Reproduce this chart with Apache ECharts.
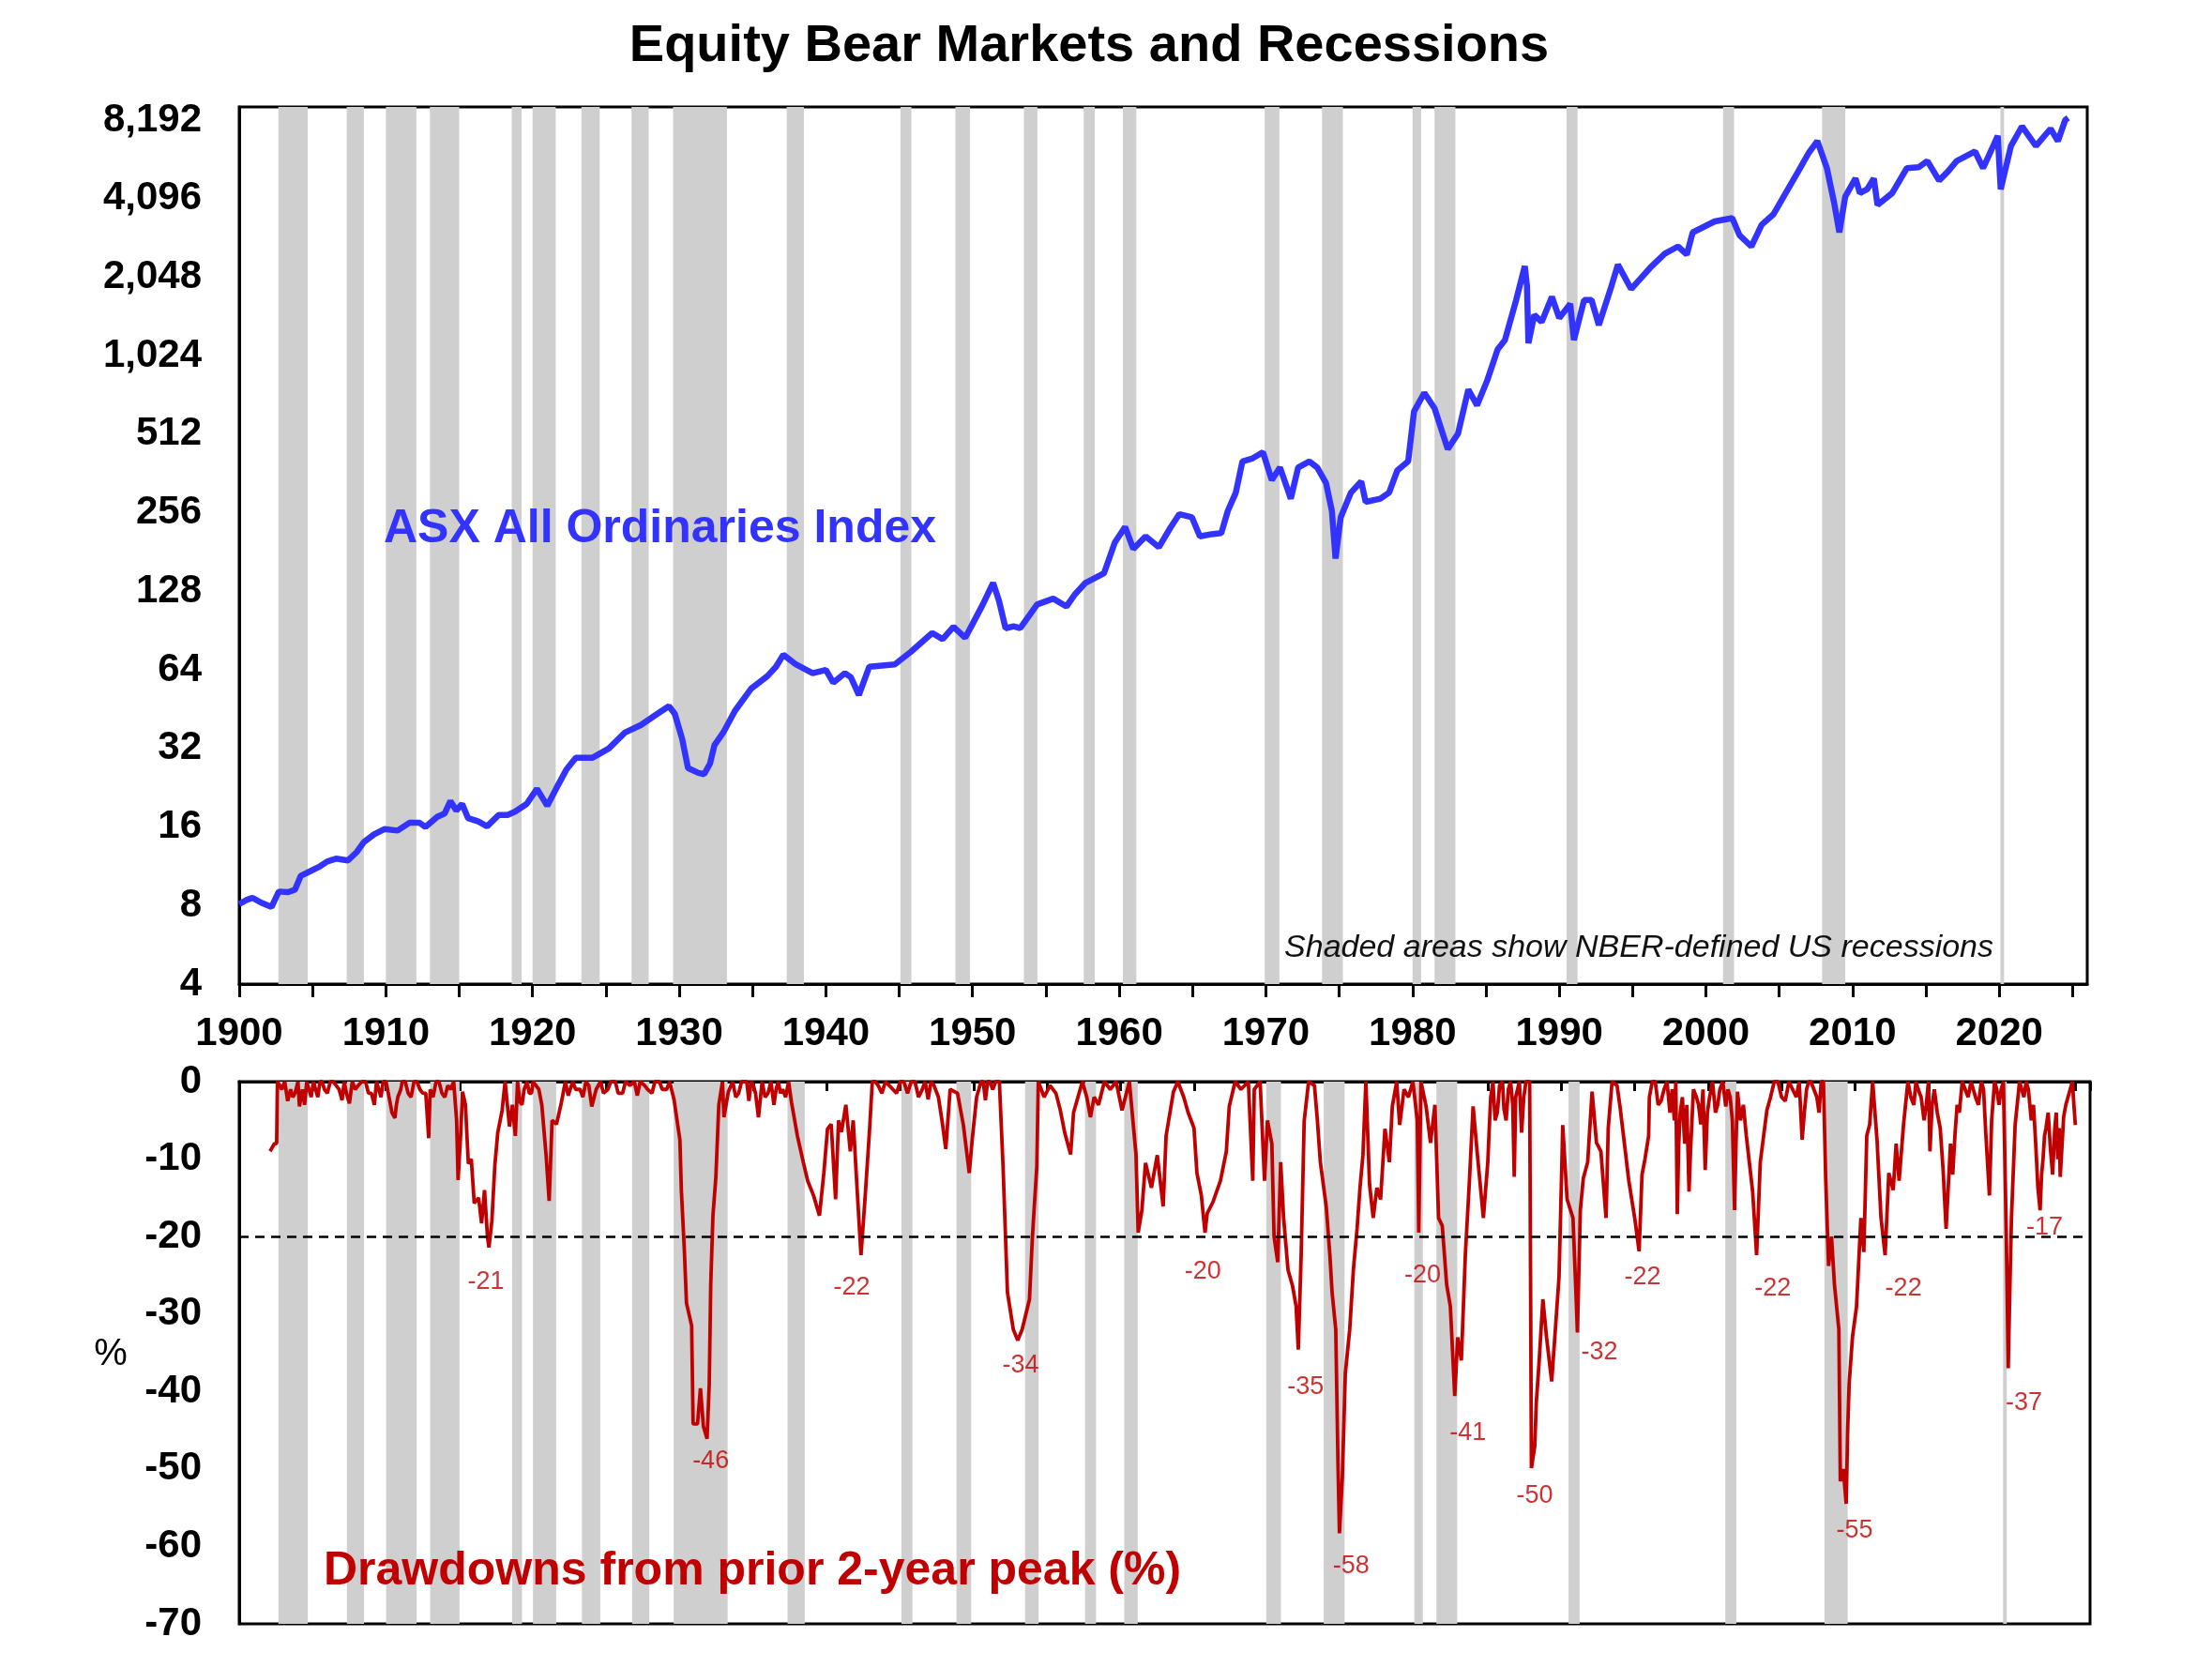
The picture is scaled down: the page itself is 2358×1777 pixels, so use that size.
<!DOCTYPE html>
<html>
<head>
<meta charset="utf-8">
<script src="https://cdn.jsdelivr.net/npm/echarts@6/dist/echarts.min.js"></script>
<style>
html,body{margin:0;padding:0;background:#fff;}
#chart{width:2358px;height:1777px;}
</style>
</head>
<body>
<div id="chart"></div>
<script>
// NBER US recessions (decimal years, peak to trough)
const recStart = [1902.67,1907.33,1910.0,1913.0,1918.58,1920.0,1923.33,1926.75,1929.58,1937.33,1945.08,1948.83,1953.5,1957.58,1960.25,1969.92,1973.83,1980.0,1981.5,1990.5,2001.17,2007.92,2020.08];
const recEnd   = [1904.67,1908.5,1912.08,1915.0,1919.25,1921.58,1924.58,1927.92,1933.25,1938.5,1945.83,1949.83,1954.42,1958.33,1961.17,1970.92,1975.25,1980.58,1982.92,1991.25,2001.92,2009.5,2020.33];

// ASX All Ordinaries index
const idxYears = [1900.0,1900.5,1900.9,1901.5,1902.2,1902.7,1903.3,1903.8,1904.2,1904.8,1905.5,1906.0,1906.6,1907.4,1908.0,1908.5,1909.2,1909.9,1910.8,1911.6,1912.3,1912.7,1913.5,1914.0,1914.4,1914.8,1915.2,1915.6,1916.3,1916.9,1917.7,1918.3,1918.8,1919.6,1920.3,1921.0,1921.6,1922.3,1922.95,1924.1,1925.2,1926.3,1927.4,1928.5,1929.3,1929.7,1930.2,1930.6,1931.3,1931.7,1932.1,1932.4,1933.0,1933.8,1934.9,1936.0,1936.6,1937.1,1937.95,1939.1,1940.0,1940.5,1941.3,1941.7,1942.25,1942.96,1944.7,1945.8,1947.25,1947.96,1948.7,1949.5,1950.0,1950.7,1951.4,1951.8,1952.25,1952.8,1953.25,1954.4,1955.5,1956.4,1957.0,1957.7,1958.96,1959.7,1960.4,1960.96,1961.8,1962.7,1963.5,1964.1,1964.96,1965.5,1966.3,1966.96,1967.4,1967.95,1968.4,1969.1,1969.8,1970.4,1970.96,1971.7,1972.2,1972.96,1973.5,1974.1,1974.5,1974.75,1975.1,1975.8,1976.5,1976.8,1977.8,1978.4,1978.96,1979.7,1980.1,1980.8,1981.5,1982.4,1983.1,1983.8,1984.4,1985.1,1985.8,1986.3,1987.05,1987.65,1987.8,1987.9,1988.3,1988.8,1989.5,1990.0,1990.75,1991.0,1991.7,1992.2,1992.7,1993.5,1994.0,1994.9,1996.2,1997.2,1998.1,1998.7,1999.1,2000.6,2001.8,2002.3,2003.1,2003.8,2004.6,2005.3,2006.3,2007.0,2007.6,2008.25,2008.75,2009.1,2009.5,2010.2,2010.5,2011.0,2011.45,2011.7,2012.7,2013.7,2014.5,2015.1,2015.9,2016.5,2017.1,2018.35,2018.9,2019.9,2020.1,2020.8,2021.55,2022.5,2023.5,2024.0,2024.5,2024.7];
const idxValues = [8.1,8.4,8.57,8.2,7.9,9.05,9.0,9.19,10.4,10.8,11.3,11.8,12.1,11.9,12.8,14.0,15.0,15.7,15.5,16.6,16.6,16.0,17.5,18.0,20.1,18.5,19.6,17.3,16.8,16.1,17.8,17.8,18.3,19.6,22.4,19.3,22.4,26.5,29.5,29.5,32.0,36.8,39.4,43.4,46.5,43.4,34.8,26.9,25.8,25.5,28.0,32.9,36.8,44.6,54.2,60.5,65.8,73.2,67.2,62.2,64,57.2,62.2,60,51.3,65.8,67.2,75.1,88.6,83.9,93.7,85,96,114,138,118,92.4,94,92.4,114,120,112,125,138,150,197,226,186,208,189,225,253,246,208,212,214,260,306,403,414,437,342,382,290,382,403,382,333,260,171,246,306,338,282,290,306,372,403,626,738,644,449,515,760,661,826,1083,1176,1663,2257,1900,1144,1468,1380,1722,1428,1618,1176,1675,1675,1342,1845,2288,1845,2225,2520,2685,2500,3040,3350,3450,2960,2685,3250,3565,4170,5210,6120,6810,5360,3930,3040,4170,4900,4300,4450,4900,3870,4300,5360,5400,5710,4810,5200,5710,6210,5360,7130,4450,6520,7750,6520,7590,6810,8200,8350];

// Drawdowns from prior 2-year peak (%) - main swings
const ddYears = [1902.1,1902.4,1902.55,1902.6,1902.9,1903.1,1903.3,1903.5,1903.8,1904.1,1904.3,1904.6,1904.9,1905.2,1905.5,1905.8,1906.2,1906.6,1907.0,1907.3,1907.5,1907.7,1908.1,1908.6,1909.0,1909.2,1909.5,1909.8,1910.2,1910.4,1910.6,1910.8,1911.1,1911.5,1911.9,1912.3,1912.7,1912.9,1913.0,1913.4,1913.8,1914.2,1914.6,1914.8,1914.9,1915.1,1915.2,1915.4,1915.6,1915.8,1916.0,1916.3,1916.5,1916.7,1916.9,1917.0,1917.2,1917.4,1917.6,1917.9,1918.1,1918.4,1918.6,1918.8,1919.1,1919.4,1919.6,1919.9,1920.2,1920.6,1920.9,1921.1,1921.3,1921.6,1921.9,1922.4,1922.7,1923.2,1923.6,1924.0,1924.3,1924.6,1925.1,1925.6,1926.1,1926.6,1927.1,1927.6,1928.1,1928.6,1929.1,1929.6,1930.0,1930.1,1930.3,1930.45,1930.8,1930.9,1931.2,1931.4,1931.6,1931.85,1932.0,1932.1,1932.25,1932.45,1932.65,1932.9,1933.0,1933.3,1933.6,1934.0,1934.4,1934.7,1935.0,1935.35,1935.6,1936.0,1936.4,1936.7,1937.0,1937.4,1937.6,1938.0,1938.4,1938.7,1939.1,1939.5,1939.8,1940.05,1940.3,1940.6,1940.8,1941.0,1941.3,1941.6,1941.8,1942.06,1942.33,1942.6,1942.9,1943.1,1943.5,1944.0,1944.5,1945.0,1945.5,1946.0,1946.5,1946.9,1947.3,1947.85,1948.1,1948.4,1948.9,1949.3,1949.7,1949.9,1950.2,1950.5,1950.8,1951.1,1951.75,1952.0,1952.3,1952.7,1953.0,1953.3,1953.8,1954.0,1954.3,1954.4,1954.8,1955.2,1955.6,1955.9,1956.2,1956.6,1956.8,1957.1,1957.4,1957.7,1957.95,1958.2,1958.5,1958.9,1959.3,1959.7,1960.1,1960.6,1961.05,1961.2,1961.45,1961.7,1962.1,1962.5,1962.9,1963.1,1963.6,1963.9,1964.3,1964.6,1965.0,1965.2,1965.5,1965.75,1965.9,1966.3,1966.8,1967.2,1967.4,1967.8,1968.2,1968.7,1969.0,1969.1,1969.5,1969.8,1970.0,1970.3,1970.45,1970.7,1970.9,1971.1,1971.4,1971.7,1971.95,1972.1,1972.3,1972.5,1972.8,1973.2,1973.4,1973.6,1974.0,1974.25,1974.4,1974.65,1974.8,1974.9,1975.1,1975.3,1975.6,1975.85,1976.1,1976.3,1976.5,1976.7,1976.95,1977.2,1977.45,1977.7,1978.0,1978.3,1978.5,1978.8,1979.0,1979.3,1979.6,1979.9,1980.2,1980.3,1980.45,1980.8,1981.1,1981.4,1981.65,1981.9,1982.2,1982.45,1982.75,1982.95,1983.2,1983.47,1983.75,1984.0,1984.3,1984.7,1985.0,1985.2,1985.5,1985.8,1986.1,1986.4,1986.8,1987.0,1987.3,1987.6,1987.85,1987.97,1988.2,1988.3,1988.5,1988.75,1989.0,1989.35,1989.6,1989.85,1990.05,1990.1,1990.4,1990.8,1991.0,1991.1,1991.3,1991.5,1991.8,1992.1,1992.4,1992.7,1993.05,1993.2,1993.46,1993.8,1994.0,1994.3,1994.6,1995.0,1995.3,1995.5,1995.7,1995.95,1996.2,1996.6,1997.0,1997.4,1997.7,1997.9,1998.1,1998.4,1998.7,1998.9,1999.2,1999.5,1999.8,2000.1,2000.5,2000.8,2001.2,2001.5,2001.8,2002.0,2002.4,2002.6,2003.03,2003.3,2003.55,2004.0,2004.5,2005.0,2005.5,2006.0,2006.4,2006.7,2007.0,2007.4,2007.7,2008.0,2008.2,2008.4,2008.6,2008.9,2009.0,2009.2,2009.4,2009.5,2009.6,2009.83,2010.1,2010.4,2010.6,2010.8,2011.0,2011.2,2011.5,2011.77,2012.05,2012.3,2012.6,2012.8,2013.0,2013.3,2013.6,2014.0,2014.3,2014.7,2015.1,2015.4,2015.8,2016.0,2016.2,2016.5,2016.8,2017.1,2017.5,2017.9,2018.2,2018.6,2018.9,2019.15,2019.3,2019.5,2019.8,2020.1,2020.3,2020.43,2020.55,2020.65,2020.9,2021.2,2021.5,2021.8,2022.0,2022.3,2022.45,2022.6,2022.8,2023.0,2023.3,2023.6,2023.8,2023.97,2024.2,2024.5,2024.8,2025.0];
const ddValues = [-9,-8,-8,0,-1,0,-2.5,-1,-1.5,-3.2,-1,0,-2,-1,0,-1,0,-0.5,-2.4,-1.5,-2.8,0,-0.5,0,-1.5,-3,-1,0,-2,-4,-4.7,-2,0,-1.5,0,-1,-1.5,-7.3,-1,0,-1.5,-0.5,0,-5,-12.7,-6,-1.3,-3,-10.6,-10,-15.7,-15,-18.3,-14,-20,-21.4,-18,-10.9,-6.6,-3.7,0,-5.8,-3,-7,-2.6,-1,0,-1.5,-0.5,-3,-9.7,-15.4,-5,-5.5,-3,-1.8,0,-1,0,-3.2,-1,0,-1,0,-1.5,-0.5,-1.8,-0.5,-1.5,0,-1,-2.3,-7.5,-14,-21.6,-28.6,-31.5,-44.2,-44.2,-39.6,-44.5,-46.1,-39,-26.2,-17.3,-12.3,-3,0,-4.6,-1.3,0,-1.5,0,-2.5,-0.5,-4.6,0,-1.5,-3,0,-1,0,-2.7,-7,-10.4,-12.8,-14.7,-17.3,-11.8,-6.1,-5.5,-15.2,-5,-6.5,-3,-9,-5,-13.7,-22.4,-15.2,-6.6,0,-0.5,0,-1,0,-1.5,0,-1,-2.3,-0.5,-5.1,-8.7,-1,-1.5,-5.6,-11.8,-7.5,-2,0,-2.4,0,0,-10.9,-27.2,-32,-33.4,-32,-28.1,-20,-10.9,0,-2,-0.5,-1.5,-3.7,-6.6,-9.4,-4,-2,0,-2,-4.6,-2,-3,0,-1,0,-3.7,0,-9.4,-19.5,-16.6,-10.5,-13.7,-9.5,-16.1,-7,-1.3,0,-2,-4,-6,-11.8,-14.7,-19.5,-17,-15.5,-12.8,-9,-3.2,0,-1,0,-12.8,-1,0,-12.8,-5,-8,-20,-23.3,-10.4,-17.6,-24.3,-26.3,-29,-34.6,-22,-5.1,0,-0.5,-5,-10.4,-16.1,-22.4,-27.2,-32,-49.2,-58.3,-51,-37.7,-32,-24.3,-19,-13.7,-9.5,0,-13.3,-17.6,-13.7,-15.2,-6.1,-10.4,-3.2,0,-5.6,-1,-2,0,-5,-19.5,0,-3.2,-7.9,-3,-17.6,-18.6,-26.2,-29,-40.6,-33,-36,-22.4,-12.8,-3.2,-9.6,-17.6,-10.4,-2,-5,-0.5,-3.5,-1,-12.3,-2,-6.6,0,0,-49.9,-47,-41.5,-36,-28.1,-33,-38.7,-32,-25.2,-10,-5.6,-15.2,-17.6,-27.2,-32.4,-16.6,-12.5,-10.4,-1.3,-7.9,-9,-17.6,-6,0,-0.5,-3.2,-8,-12.8,-17.6,-21.9,-12,-10,-7,0,-3,-1,-4,-5,-17.1,-4,-8,-14.2,-5,-2,-5.5,-11.4,-2,-4,-1,-3.2,-2,-16.6,-1.3,-3,-7,-14.2,-22.4,-10.4,-3.7,0,-2,0,-2,-7.5,-1,0,-2,0,-12.3,-23.8,-20,-26.2,-32,-51.6,-50,-54.5,-45,-39,-32.9,-29.1,-17.6,-22,-7,-5.5,0,-7.6,-17.6,-22.4,-11.8,-14,-8,-12.8,-5.6,0,-3,-1,-5,-9,-1,-6,-11.5,-19,-8,-7,-4,-1,0,-2,0,-6.6,-14.7,-5,0,-3,0,-20,-37,-26,-17.6,-5.6,0,-2,-1,-5,-8,-13.7,-16.6,-10,-6,-8.6,-6,-10,-12.3,-4.6,-2,0,-5.6];

// Drawdowns - additional month-to-month wiggles
const ddNoiseYears = [1903.2,1903.65,1904.0,1904.45,1904.75,1905.05,1905.35,1905.65,1906.0,1906.4,1906.8,1907.15,1907.9,1908.35,1908.8,1909.35,1909.65,1910.0,1910.7,1911.0,1911.3,1911.7,1912.1,1912.5,1913.2,1913.6,1914.0,1914.4,1918.95,1919.25,1919.75,1920.0,1920.4,1922.0,1922.2,1922.9,1923.4,1923.8,1924.8,1925.3,1925.8,1926.3,1926.9,1927.3,1927.8,1928.3,1928.8,1929.3,1933.8,1934.2,1934.55,1934.85,1935.15,1935.8,1936.2,1936.55,1936.85,1937.2,1943.3,1943.75,1944.25,1944.75,1945.25,1945.75,1946.25,1946.7,1947.1,1947.6,1950.35,1950.65,1950.95,1951.3,1951.5,1985.1,1985.35,1985.65,1986.0,1986.25,1986.55,1986.7,1986.9,1987.15,1987.45,1996.0,1996.4,1996.8,1997.2,1997.55,1997.8,1998.0,1998.25,1998.55,1998.8,1999.0,1999.35,1999.65,1999.95,2000.3,2000.65,2001.0,2001.35,2001.65,2001.9,2002.2,2004.25,2004.75,2005.25,2005.75,2006.2,2006.55,2006.85,2007.2,2007.55,2007.85,2013.8,2014.15,2014.5,2014.85,2015.0,2015.25,2015.6,2016.65,2016.95,2017.3,2017.7,2018.0,2018.4,2018.75,2019.65,2019.95,2021.35,2021.65,2021.9,2022.15,2022.7,2022.9,2023.15,2023.45,2023.7,2023.9,2024.1,2024.35,2024.65,2024.9];
const ddNoiseValues = [0,-2,0,-3,-1,0,-2,0,-1.5,0,-1,0,-1,0,-1.5,0,-2,0,-3,-1,0,-2,0,-1.5,-2,0,-2,-1,0,-3,-1.5,0,-1,-3,0,-1,-2,-0.5,-1.5,0,-1.5,0,0,0,-1,0,-1,0,-2,0,0,0,-1.5,-2,0,-1,-1.5,-2,0,-1.5,-0.5,-1.5,0,0,-2,0,0,-2,-1,0,0,-1,0,-6,0,-4,0,-5,0,-3,-2,0,-2,-2,0,-2.5,0,-1,0,-8,-2,-3,-9,-1,-3,-1,-4,0,-3,0,-1,-5,-8,-5,-2,0,-2.5,-1,0,-4,0,-1,-4,0,-2,0,-2,-3,0,-3,-4,-12,-3,0,-2,0,-3,-1,-1,-1,-1,0,-3,-3,-12,-7,-4,-12,-4,-6,-8,-3,-1,-3];

// Trough labels (label centre positions)
const troughX = [1916.8,1932.1,1941.7,1953.2,1965.6,1972.6,1975.7,1980.57,1983.65,1988.2,1992.6,1995.54,2004.4,2009.97,2013.3,2021.5,2022.9];
const troughY = [-25.9,-49,-26.6,-36.7,-24.5,-39.4,-62.6,-25,-45.4,-53.5,-35,-25.2,-26.7,-58,-26.7,-41.5,-18.8];
const troughText = ['-21','-46','-22','-34','-20','-35','-58','-20','-41','-50','-32','-22','-22','-55','-22','-37','-17'];

const FONT = '"Liberation Sans", Arial, Helvetica, sans-serif';
const recAreas = recStart.map((s, i) => [{xAxis: s}, {xAxis: recEnd[i]}]);
const ddData = ddYears.map((x, i) => [x, ddValues[i]])
  .concat(ddNoiseYears.map((x, i) => [x, ddNoiseValues[i]]))
  .sort((a, b) => a[0] - b[0]);

const chart = echarts.init(document.getElementById('chart'));
chart.setOption({
  animation: false,
  backgroundColor: '#ffffff',
  textStyle: {fontFamily: FONT},
  grid: [
    {left: 255, top: 114, width: 1970, height: 935, show: true, borderColor: '#000', borderWidth: 3, backgroundColor: '#fff'},
    {left: 255, top: 1153, width: 1973, height: 578, show: true, borderColor: '#000', borderWidth: 3, backgroundColor: '#fff'}
  ],
  xAxis: [
    {
      gridIndex: 0, type: 'value', min: 1900, max: 2026, interval: 5,
      axisLine: {show: true, lineStyle: {color: '#000', width: 3}},
      axisTick: {show: true, inside: false, length: 14, lineStyle: {color: '#000', width: 3}},
      axisLabel: {
        show: true, margin: 32, fontSize: 42, fontWeight: 'bold', color: '#000', fontFamily: FONT,
        showMaxLabel: false,
        formatter: v => (Math.round(v) % 10 === 0 ? String(Math.round(v)) : '')
      },
      splitLine: {show: false}
    },
    {
      gridIndex: 1, type: 'value', min: 1900, max: 2026, interval: 5, position: 'top',
      axisLine: {show: true, lineStyle: {color: '#000', width: 3}},
      axisTick: {show: true, inside: true, length: 10, lineStyle: {color: '#000', width: 3}},
      axisLabel: {show: false},
      splitLine: {show: false}
    }
  ],
  yAxis: [
    {
      gridIndex: 0, type: 'log', logBase: 2, min: 4, max: 9200, interval: 1,
      axisLine: {show: true, lineStyle: {color: '#000', width: 3}},
      axisTick: {show: false},
      axisLabel: {
        show: true, margin: 40, fontSize: 42, fontWeight: 'bold', color: '#000', fontFamily: FONT,
        showMaxLabel: false,
        formatter: v => Math.round(v).toLocaleString('en-US')
      },
      splitLine: {show: false}
    },
    {
      gridIndex: 1, type: 'value', min: -70, max: 0, interval: 10,
      axisLine: {show: true, lineStyle: {color: '#000', width: 3}},
      axisTick: {show: false},
      axisLabel: {show: true, margin: 40, fontSize: 42, fontWeight: 'bold', color: '#000', fontFamily: FONT},
      splitLine: {show: false}
    }
  ],
  series: [
    {
      name: 'ASX All Ordinaries Index', type: 'line', xAxisIndex: 0, yAxisIndex: 0,
      showSymbol: false, symbol: 'none', z: 3,
      lineStyle: {color: '#3333ff', width: 6.5},
      data: idxYears.map((x, i) => [x, idxValues[i]]),
      markArea: {silent: true, itemStyle: {color: '#d0cfd0', opacity: 1}, data: recAreas}
    },
    {
      name: 'Drawdown', type: 'line', xAxisIndex: 1, yAxisIndex: 1,
      showSymbol: false, symbol: 'none', z: 3,
      lineStyle: {color: '#c00000', width: 3.8},
      data: ddData,
      markArea: {silent: true, itemStyle: {color: '#d0cfd0', opacity: 1}, data: recAreas},
      markLine: {
        silent: true, symbol: 'none', label: {show: false},
        lineStyle: {color: '#000', width: 2.5, type: [10, 7]},
        data: [{yAxis: -20}]
      }
    },
    {
      name: 'Trough labels', type: 'scatter', xAxisIndex: 1, yAxisIndex: 1,
      symbolSize: 0, z: 4, silent: true,
      data: troughX.map((x, i) => ({value: [x, troughY[i]], name: troughText[i]})),
      label: {
        show: true, position: 'inside', formatter: p => p.name,
        color: '#c00000', fontSize: 27, fontFamily: FONT
      }
    }
  ],
  graphic: [
    {type: 'text', x: 1161, y: 50, z: 10, style: {text: 'Equity Bear Markets and Recessions', font: 'bold 56px ' + FONT, fill: '#000', align: 'center', verticalAlign: 'middle'}},
    {type: 'text', x: 409, y: 564, z: 10, style: {text: 'ASX All Ordinaries Index', font: 'bold 50px ' + FONT, fill: '#3333ff', align: 'left', verticalAlign: 'middle'}},
    {type: 'text', x: 2125, y: 1011, z: 10, style: {text: 'Shaded areas show NBER-defined US recessions', font: 'italic 34px ' + FONT, fill: '#111', align: 'right', verticalAlign: 'middle'}},
    {type: 'text', x: 345, y: 1675, z: 10, style: {text: 'Drawdowns from prior 2-year peak (%)', font: 'bold 50px ' + FONT, fill: '#c00000', align: 'left', verticalAlign: 'middle'}},
    {type: 'text', x: 118, y: 1444, z: 10, style: {text: '%', font: '40px ' + FONT, fill: '#000', align: 'center', verticalAlign: 'middle'}}
  ]
});
</script>
</body>
</html>
